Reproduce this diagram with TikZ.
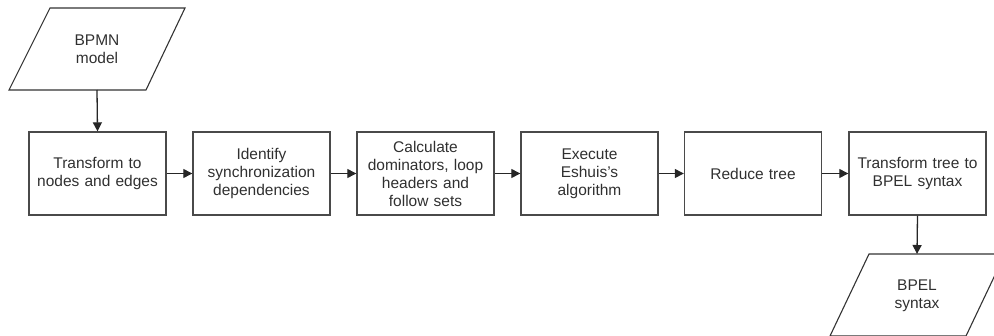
\documentclass[tikz,border=0pt]{standalone}
\usepackage{fontspec}
\setmainfont{Liberation Sans}
\usetikzlibrary{arrows.meta}
\definecolor{edgegray}{HTML}{4A4A4A}
\definecolor{textgray}{HTML}{303030}
\begin{document}
\begin{tikzpicture}[x=1pt,y=-1pt,
  stepbox/.style={draw=edgegray,line width=1.4pt,minimum width=137pt,minimum height=83pt,
    align=center,text width=130pt,font=\fontsize{15.5}{18}\selectfont,text=textgray,inner sep=0pt},
  lbl/.style={align=center,font=\fontsize{15.5}{18}\selectfont,text=textgray},
  flow/.style={draw=black!85,line width=1.3pt,-{Triangle[length=9pt,width=9pt]}},
  shapeline/.style={draw=black!80,line width=1.1pt}]
\useasboundingbox (0,0) rectangle (994,335);
\clip (0,0) rectangle (994,335);

% input document: BPMN model
\draw[shapeline] (50,8) -- (185,8) -- (146,90) -- (9,90) -- cycle;
\node[lbl] (bpmn) at (97,49) {BPMN\\model};
\coordinate (bpmnout) at (97,90);

% processing steps
\node[stepbox] (s1) at (97.5,173.5) {Transform to\\nodes and edges};
\node[stepbox] (s2) at (261.5,173.5) {Identify\\synchronization\\dependencies};
\node[stepbox] (s3) at (425.5,173.5) {Calculate\\dominators, loop\\headers and\\follow sets};
\node[stepbox] (s4) at (589.5,173.5) {Execute\\Eshuis's\\algorithm};
\node[stepbox] (s5) at (753,173.5) {Reduce tree};
\node[stepbox] (s6) at (917.5,173.5) {Transform tree to\\BPEL syntax};

% output document: BPEL syntax
\draw[shapeline] (869,254) -- (1005,254) -- (966,336) -- (830,336) -- cycle;
\node[lbl] (bpel) at (917,296) {BPEL\\syntax};
\coordinate (bpelin) at (917,254);

% connectors
\draw[flow] (bpmnout) -- (s1.north);
\draw[flow] (s1) -- (s2);
\draw[flow] (s2) -- (s3);
\draw[flow] (s3) -- (s4);
\draw[flow] (s4) -- (s5);
\draw[flow] (s5) -- (s6);
\draw[flow] (s6.south) -- (bpelin);
\end{tikzpicture}
\end{document}
